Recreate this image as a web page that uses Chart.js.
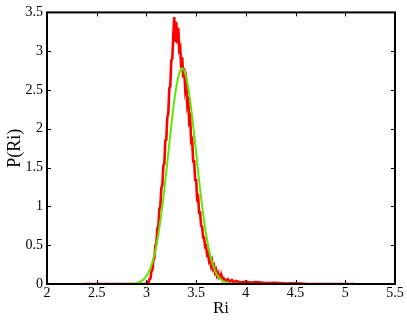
<!DOCTYPE html>
<html>
<head>
<meta charset="utf-8">
<script src="https://cdn.jsdelivr.net/npm/chart.js@4"></script>
<style>
html,body{margin:0;padding:0;background:#fff;}
#wrap{width:407px;height:322px;}
</style>
</head>
<body>
<div id="wrap"><canvas id="c" width="407" height="322"></canvas></div>
<script>
const redX = [2.37,2.60,2.80,2.95,3.00,3.01,3.02,3.03,3.04,3.05,3.06,3.07,3.08,3.09,3.10,3.11,3.12,3.13,3.14,3.15,3.16,3.17,3.18,3.19,3.20,3.21,3.22,3.23,3.24,3.25,3.26,3.27,3.28,3.29,3.30,3.31,3.32,3.33,3.34,3.35,3.36,3.37,3.38,3.39,3.40,3.41,3.42,3.43,3.44,3.45,3.46,3.47,3.48,3.49,3.50,3.51,3.52,3.53,3.54,3.55,3.56,3.57,3.58,3.59,3.60,3.61,3.62,3.63,3.64,3.65,3.66,3.67,3.68,3.69,3.70,3.71,3.72,3.73,3.74,3.75,3.76,3.77,3.78,3.80,3.82,3.84,3.86,3.88,3.90,3.95,4.00,4.05,4.10,4.20,4.30,4.40,4.50,4.60,4.70,5.10];
const redY = [0,0,0,0,0.00,0.02,0.01,0.06,0.07,0.16,0.18,0.31,0.33,0.50,0.52,0.72,0.74,0.97,1.00,1.24,1.27,1.52,1.55,1.85,1.86,2.15,2.20,2.52,2.55,2.88,2.90,3.20,3.44,3.12,3.38,3.10,3.30,3.02,3.05,2.78,2.92,2.66,2.78,2.52,2.60,2.34,2.42,2.10,2.14,1.84,1.86,1.58,1.58,1.34,1.34,1.10,1.12,0.92,0.92,0.75,0.74,0.60,0.60,0.48,0.49,0.38,0.40,0.30,0.33,0.24,0.29,0.20,0.23,0.15,0.18,0.11,0.14,0.09,0.11,0.07,0.09,0.05,0.07,0.04,0.06,0.03,0.05,0.02,0.04,0.02,0.03,0.015,0.025,0.012,0.015,0.006,0.008,0.002,0,0];
// Green: fitted density
const greenX = [2.37,2.70,2.80,2.84,2.88,2.92,2.96,2.98,3.00,3.02,3.04,3.06,3.08,3.10,3.12,3.14,3.16,3.18,3.20,3.22,3.24,3.26,3.28,3.30,3.32,3.34,3.36,3.38,3.40,3.42,3.44,3.46,3.48,3.50,3.52,3.54,3.56,3.58,3.60,3.62,3.64,3.66,3.68,3.70,3.72,3.76,3.80,3.84,3.88,3.92,3.96,4.10,5.12];
const greenY = [0,0,0.001,0.003,0.008,0.02,0.047,0.07,0.102,0.146,0.204,0.28,0.376,0.496,0.64,0.809,1.002,1.216,1.447,1.686,1.925,2.154,2.361,2.536,2.669,2.752,2.78,2.752,2.669,2.536,2.361,2.154,1.925,1.686,1.447,1.216,1.002,0.809,0.64,0.496,0.376,0.28,0.204,0.146,0.102,0.047,0.02,0.008,0.003,0.001,0,0,0];
const xTicks = [2,2.5,3,3.5,4,4.5,5,5.5];
const yTicks = [0,0.5,1,1.5,2,2.5,3,3.5];
const xLabel = 'Ri';
const yLabel = 'P(Ri)';

const toPts = (xs, ys) => xs.map((x, i) => ({x: x, y: ys[i]}));

const frame = {
  id: 'frame',
  afterDatasetsDraw(chart) {
    const {ctx, chartArea: a, scales: {x, y}} = chart;
    ctx.save();
    ctx.strokeStyle = '#000';
    ctx.lineWidth = 1;
    const tl = 4;
    ctx.beginPath();
    xTicks.forEach(v => {
      const px = Math.round(x.getPixelForValue(v)) + 0.5;
      ctx.moveTo(px, a.bottom); ctx.lineTo(px, a.bottom - tl);
      ctx.moveTo(px, a.top); ctx.lineTo(px, a.top + tl);
    });
    yTicks.forEach(v => {
      const py = Math.round(y.getPixelForValue(v)) + 0.5;
      ctx.moveTo(a.left, py); ctx.lineTo(a.left + tl, py);
      ctx.moveTo(a.right, py); ctx.lineTo(a.right - tl, py);
    });
    ctx.stroke();
    ctx.lineWidth = 2;
    ctx.strokeRect(a.left, a.top, a.right - a.left, a.bottom - a.top);
    ctx.restore();
  }
};

new Chart(document.getElementById('c'), {
  type: 'scatter',
  data: {
    datasets: [
      {data: toPts(redX, redY), showLine: true, borderColor: '#ff0000', borderWidth: 2.6, pointRadius: 0, tension: 0, order: 2},
      {data: toPts(greenX, greenY), showLine: true, borderColor: '#5ee800', borderWidth: 2, pointRadius: 0, tension: 0, order: 1}
    ]
  },
  options: {
    responsive: false,
    animation: false,
    devicePixelRatio: 1,
    layout: {padding: {left: 0, right: 12, top: 11, bottom: 0}},
    plugins: {legend: {display: false}, tooltip: {enabled: false}},
    scales: {
      x: {
        type: 'linear', min: 2, max: 5.5,
        afterBuildTicks: s => { s.ticks = xTicks.map(v => ({value: v})); },
        afterFit: s => { s.height = 38; },
        grid: {display: false, drawTicks: false},
        border: {display: false},
        ticks: {color: '#000', padding: 1, font: {family: 'Liberation Serif', size: 14}, callback: v => String(v)},
        title: {display: true, text: xLabel, color: '#000', font: {family: 'Liberation Serif', size: 17}, padding: {top: 0, bottom: 3}}
      },
      y: {
        type: 'linear', min: 0, max: 3.5,
        afterBuildTicks: s => { s.ticks = yTicks.map(v => ({value: v})); },
        afterFit: s => { s.width = 47; },
        grid: {display: false, drawTicks: false},
        border: {display: false},
        ticks: {color: '#000', padding: 4, font: {family: 'Liberation Serif', size: 14}, callback: v => String(v)},
        title: {display: true, text: yLabel, color: '#000', font: {family: 'Liberation Serif', size: 18}, padding: {top: 4, bottom: 0}}
      }
    }
  },
  plugins: [frame]
});
</script>
</body>
</html>
